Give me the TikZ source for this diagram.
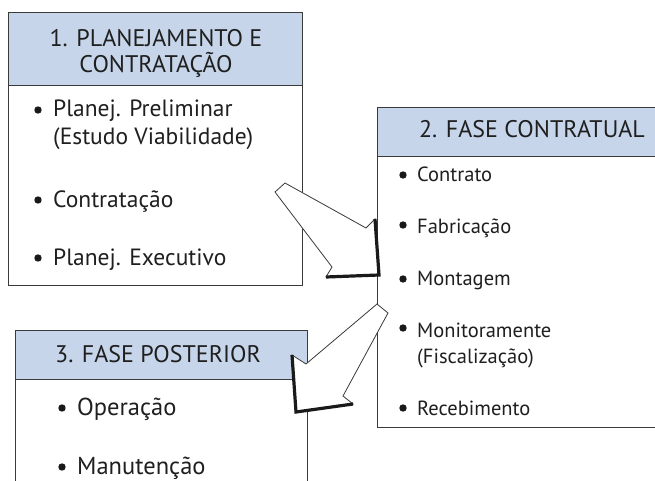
\documentclass[tikz,border=0pt]{standalone}
\usepackage{fontspec}
\setmainfont{PT Sans}
\definecolor{hdrfill}{HTML}{C6D5EA}
\definecolor{edgecol}{HTML}{3A3A3A}
\definecolor{shadowcol}{HTML}{1A1A1A}
\begin{document}
\begin{tikzpicture}[x=1pt,y=-1pt,
  boxline/.style={draw=edgecol,line width=0.9pt},
  hdrtxt/.style={anchor=base,inner sep=0pt,font=\fontsize{24}{28}\selectfont,text=black!88},
  itemA/.style={anchor=base west,inner sep=0pt,font=\fontsize{23.5}{27}\selectfont,text=black!88},
  itemB/.style={anchor=base west,inner sep=0pt,font=\fontsize{20.5}{24}\selectfont,text=black!88},
  itemC/.style={anchor=base west,inner sep=0pt,font=\fontsize{24.5}{28}\selectfont,text=black!88},
  bul/.style={circle,fill=black!90,inner sep=0pt,minimum size=7.4pt},
  blockarrow/.style={fill=white,draw=edgecol,line width=0.8pt,line join=miter},
  headshadow/.style={draw=shadowcol,line width=3.2pt,line join=miter,line cap=butt}]
\useasboundingbox (0,0) rectangle (655,481);
\clip (0,0) rectangle (655,481);
\fill[white] (0,0) rectangle (655,481);

% Box 1
\fill[hdrfill] (8,12) rectangle (302,85);
\draw[boxline] (8,12) rectangle (302,285);
\draw[boxline] (8,85) -- (302,85);
\node[hdrtxt] (h1a) at (156,47) {1. PLANEJAMENTO E};
\node[hdrtxt] (h1b) at (156,73) {CONTRATAÇÃO};
\node[bul] (u1a) at (38,110) {};
\node[itemA] (i1a) at (53,117) {Planej. Preliminar};
\node[itemA] (i1b) at (53,145) {(Estudo Viabilidade)};
\node[bul] (u1c) at (38,200) {};
\node[itemA] (i1c) at (53,207) {Contratação};
\node[bul] (u1d) at (38,258) {};
\node[itemA] (i1d) at (53,265) {Planej. Executivo};

% Box 2
\fill[hdrfill] (377,107) rectangle (670,156);
\draw[boxline] (670,107) -- (377,107) -- (377,427) -- (670,427);
\draw[boxline] (377,156) -- (670,156);
\node[hdrtxt] (h2) at (532,138) {2. FASE CONTRATUAL};
\node[bul] (u2a) at (403,175) {};
\node[itemB] (i2a) at (417,182) {Contrato};
\node[bul] (u2b) at (403,225) {};
\node[itemB] (i2b) at (417,233) {Fabricação};
\node[bul] (u2c) at (403,279) {};
\node[itemB] (i2c) at (417,285) {Montagem};
\node[bul] (u2d) at (403,328) {};
\node[itemB] (i2d) at (417,337) {Monitoramente};
\node[itemB] (i2e) at (417,363) {(Fiscalização)};
\node[bul] (u2f) at (403,408) {};
\node[itemB] (i2f) at (417,415) {Recebimento};

% Box 3
\fill[hdrfill] (15,330) rectangle (307,379);
\draw[boxline] (15,495) -- (15,330) -- (307,330) -- (307,495);
\draw[boxline] (15,379) -- (307,379);
\node[hdrtxt] (h3) at (158,362) {3. FASE POSTERIOR};
\node[bul] (u3a) at (62,408) {};
\node[itemC] (i3a) at (77,415) {Operação};
\node[bul] (u3b) at (62,467) {};
\node[itemC] (i3b) at (77,474) {Manutenção};

% Arrow 1 (box 1 -> box 2)
\coordinate (a1) at (275,192);
\coordinate (a2) at (285,183);
\coordinate (a3) at (366,228);
\coordinate (a4) at (375,219);
\coordinate (a5) at (379,275);
\coordinate (a6) at (326,277);
\coordinate (a7) at (332,267);
\draw[blockarrow] (a1) -- (a2) -- (a3) -- (a4) -- (a5) -- (a6) -- (a7) -- cycle;
\draw[headshadow] (a4) -- (a5) -- (a6);

% Arrow 2 (box 2 -> box 3)
\coordinate (b1) at (377,304);
\coordinate (b2) at (388,313);
\coordinate (b3) at (343,396);
\coordinate (b4) at (353,404);
\coordinate (b5) at (296,412);
\coordinate (b6) at (292,355);
\coordinate (b7) at (306,364);
\draw[blockarrow] (b1) -- (b2) -- (b3) -- (b4) -- (b5) -- (b6) -- (b7) -- cycle;
\draw[headshadow] (b6) -- (b5) -- (b4);
\end{tikzpicture}
\end{document}
